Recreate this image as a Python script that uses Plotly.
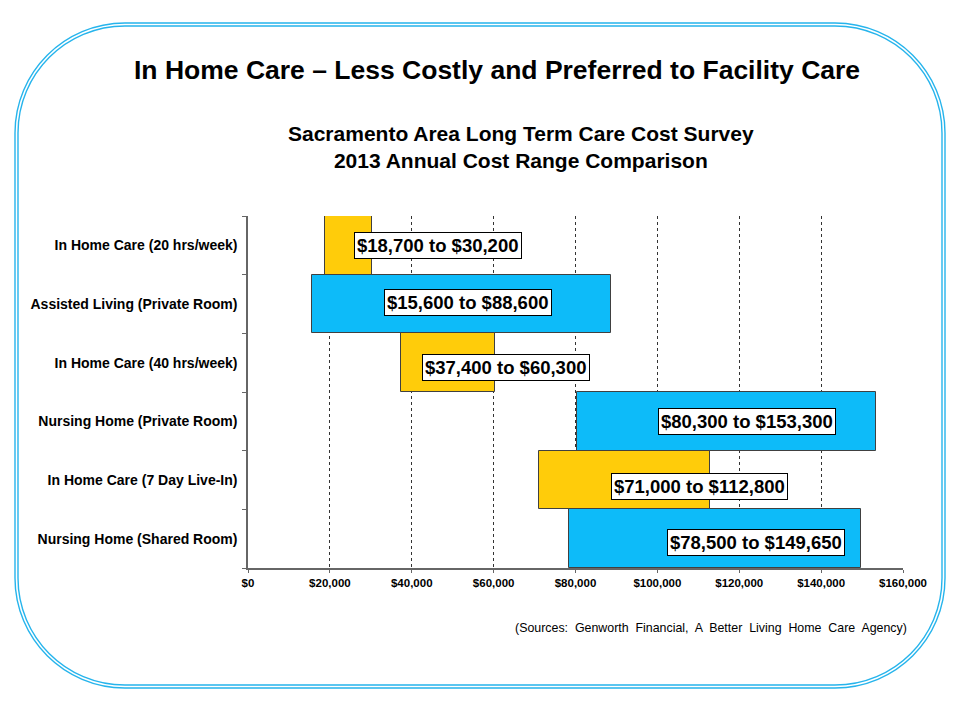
import plotly.graph_objects as go

# Data
categories = [
    'In Home Care (20 hrs/week)',
    'Assisted Living (Private Room)',
    'In Home Care (40 hrs/week)',
    'Nursing Home (Private Room)',
    'In Home Care (7 Day Live-In)',
    'Nursing Home (Shared Room)',
]
low_cost = [18700, 15600, 37400, 80300, 71000, 78500]
high_cost = [30200, 88600, 60300, 153300, 112800, 149650]
care_type = ['home', 'facility', 'home', 'facility', 'home', 'facility']
tick_values = [0, 20000, 40000, 60000, 80000, 100000, 120000, 140000, 160000]
tick_labels = ['$0', '$20,000', '$40,000', '$60,000', '$80,000',
               '$100,000', '$120,000', '$140,000', '$160,000']

COLORS = {'home': '#FFCC0A', 'facility': '#0DBBF9'}
BORDER = '#26B4EC'

# Page body has an 8px margin, so the figure is drawn 8px in and 8px smaller
OFF = 8
W, H = 960 - OFF, 720 - OFF
L, R, T, B = 248 - OFF, 57, 216 - OFF, 152
PW, PH = W - L - R, H - T - B


def px_x(x):
    # x given in screen pixels
    return (x - OFF - L) / PW


def px_y(y):
    return 1 - (y - OFF - T) / PH


def rounded_rect(x0, y0, x1, y1, r):
    """SVG path of a rounded rectangle given in screen pixels, in paper units"""
    k = 0.5523 * r
    pts = [
        ('M', [(x0 + r, y0)]),
        ('L', [(x1 - r, y0)]),
        ('C', [(x1 - r + k, y0), (x1, y0 + r - k), (x1, y0 + r)]),
        ('L', [(x1, y1 - r)]),
        ('C', [(x1, y1 - r + k), (x1 - r + k, y1), (x1 - r, y1)]),
        ('L', [(x0 + r, y1)]),
        ('C', [(x0 + r - k, y1), (x0, y1 - r + k), (x0, y1 - r)]),
        ('L', [(x0, y0 + r)]),
        ('C', [(x0, y0 + r - k), (x0 + r - k, y0), (x0 + r, y0)]),
    ]
    path = ''
    for cmd, coords in pts:
        path += cmd + ' ' + ' '.join(f'{px_x(a):.5f},{px_y(b):.5f}' for a, b in coords) + ' '
    return path + 'Z'


fig = go.Figure()

fig.add_trace(go.Bar(
    y=categories,
    x=[h - l for l, h in zip(low_cost, high_cost)],
    base=low_cost,
    orientation='h',
    marker=dict(color=[COLORS[c] for c in care_type],
                line=dict(color='#404040', width=1)),
    width=1,
    hoverinfo='skip',
))

# Range labels inside the bars
label_x = [46400, 53700, 63100, 121800, 110300, 124100]
label_shift = [0, 2, -5, 0, -6, -4]
for cat, lo, hi, lx, ys in zip(categories, low_cost, high_cost, label_x, label_shift):
    fig.add_annotation(
        x=lx, y=cat, xref='x', yref='y', yshift=ys,
        text=f'<b>${lo:,} to ${hi:,}</b>',
        showarrow=False,
        font=dict(family='Liberation Sans, Arial', size=18.5, color='black'),
        bgcolor='white', bordercolor='black', borderwidth=1, borderpad=2,
    )

# Titles and source note
fig.add_annotation(
    x=px_x(497), y=px_y(70), xref='paper', yref='paper',
    xanchor='center', yanchor='middle',
    text='<b>In Home Care \u2013 Less Costly and Preferred to Facility Care</b>',
    showarrow=False, font=dict(family='Liberation Sans, Arial', size=26.5, color='black'),
)
fig.add_annotation(
    x=px_x(521), y=px_y(147), xref='paper', yref='paper',
    xanchor='center', yanchor='middle',
    text='<b>Sacramento Area Long Term Care Cost Survey<br>2013 Annual Cost Range Comparison</b>',
    showarrow=False, font=dict(family='Liberation Sans, Arial', size=21, color='black'),
)
fig.add_annotation(
    x=px_x(909), y=px_y(628), xref='paper', yref='paper',
    xanchor='right', yanchor='middle',
    text='(Sources:  Genworth  Financial,  A  Better  Living  Home  Care  Agency)',
    showarrow=False, font=dict(family='Liberation Sans, Arial', size=12.4, color='black'),
)

# Double rounded frame
fig.add_shape(type='path', xref='paper', yref='paper', layer='below',
              path=rounded_rect(15, 23, 945, 688, 110),
              line=dict(color=BORDER, width=1.4))
fig.add_shape(type='path', xref='paper', yref='paper', layer='below',
              path=rounded_rect(18, 26, 942, 685, 107),
              line=dict(color=BORDER, width=1.4))

fig.update_layout(
    width=W, height=H,
    margin=dict(l=L, r=R, t=T, b=B),
    plot_bgcolor='white', paper_bgcolor='white',
    showlegend=False,
    bargap=0,
    xaxis=dict(
        range=[0, 160000],
        tickvals=tick_values, ticktext=[f'<b>{t}</b>' for t in tick_labels],
        tickfont=dict(family='Liberation Sans, Arial', size=11.5, color='black'),
        showgrid=True, gridcolor='#333333', griddash='3px,3px', gridwidth=1,
        showline=True, linecolor='#666666', linewidth=1.5,
        ticks='outside', ticklen=3, tickcolor='#666666',
        zeroline=False, fixedrange=True,
    ),
    yaxis=dict(
        categoryorder='array', categoryarray=categories,
        autorange='reversed',
        tickvals=categories, ticktext=[f'<b>{c}</b>' for c in categories],
        tickfont=dict(family='Liberation Sans, Arial', size=14, color='black'),
        showline=True, linecolor='#666666', linewidth=1.5,
        ticks='outside', tickson='boundaries', ticklen=4, tickcolor='#666666',
        ticklabelstandoff=6,
        showgrid=False, zeroline=False, fixedrange=True,
    ),
)

fig.write_html('out.html')
